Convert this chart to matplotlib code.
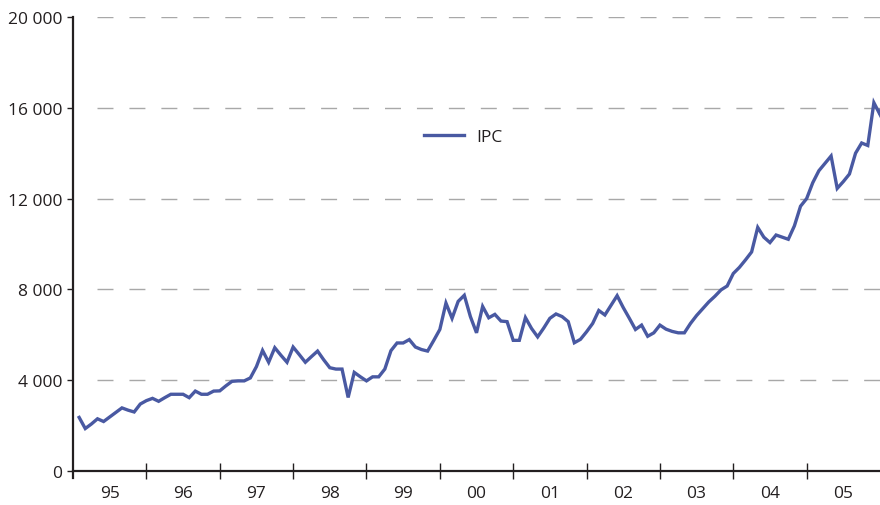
import matplotlib
matplotlib.use("Agg")
import matplotlib.pyplot as plt
import numpy as np

# monthly IPC index, month-end values
ipc_1995 = [2360, 1870, 2070, 2300, 2180, 2380, 2580, 2780, 2680, 2600, 2950, 3100]
ipc_1996 = [3200, 3070, 3230, 3380, 3380, 3380, 3230, 3520, 3380, 3380, 3520, 3530]
ipc_1997 = [3750, 3950, 3970, 3970, 4100, 4600, 5310, 4790, 5430, 5100, 4790, 5460]
ipc_1998 = [5130, 4790, 5040, 5283, 4900, 4550, 4490, 4490, 3240, 4344, 4150, 3970]
ipc_1999 = [4148, 4148, 4490, 5300, 5640, 5640, 5788, 5462, 5350, 5283, 5750, 6235]
ipc_2000 = [7397, 6726, 7473, 7741, 6800, 6087, 7249, 6750, 6900, 6606, 6579, 5756]
ipc_2001 = [5756, 6757, 6279, 5908, 6300, 6726, 6918, 6802, 6579, 5650, 5800, 6132]
ipc_2002 = [6500, 7071, 6874, 7300, 7723, 7200, 6726, 6235, 6427, 5935, 6087, 6427]
ipc_2003 = [6248, 6150, 6087, 6087, 6500, 6850, 7150, 7450, 7700, 7980, 8150, 8700]
ipc_2004 = [8970, 9300, 9650, 10731, 10300, 10063, 10396, 10300, 10208, 10800, 11664, 12000]
ipc_2005 = [12700, 13227, 13550, 13877, 12450, 12750, 13083, 14000, 14450, 14340, 16225, 15705]
ipc_2006 = [16900]

years = list(range(1995, 2006))
year_labels = ["95", "96", "97", "98", "99", "00", "01", "02", "03", "04", "05"]
y_ticks = [0, 4000, 8000, 12000, 16000, 20000]

ipc = np.array(ipc_1995 + ipc_1996 + ipc_1997 + ipc_1998 + ipc_1999 + ipc_2000
               + ipc_2001 + ipc_2002 + ipc_2003 + ipc_2004 + ipc_2005 + ipc_2006)
t = 1995 + np.arange(1, len(ipc) + 1) / 12.0

plt.rcParams['font.family'] = ['Open Sans', 'DejaVu Sans']
txt = '#231f20'

fig = plt.figure(figsize=(8.8, 5.06), dpi=100)
ax = fig.add_axes([0.083, 0.0524, 0.917, 0.912])

for v in y_ticks[1:]:
    ax.axhline(v, xmin=0.03, color='#a8a8a8', lw=1.0, linestyle=(0, (11.5, 11.5)), zorder=1)

ax.plot(t, ipc, color='#4959a2', lw=2.4, label='IPC', zorder=3, solid_joinstyle='miter')

ax.set_xlim(1995, 2006)
ax.set_ylim(-330, 20000)

for s in ['top', 'right']:
    ax.spines[s].set_visible(False)
ax.spines['bottom'].set_position(('data', 0))
ax.spines['bottom'].set_linewidth(1.6)
ax.spines['left'].set_linewidth(1.6)
ax.spines['bottom'].set_color(txt)
ax.spines['left'].set_color(txt)

ax.set_yticks(y_ticks)
ax.set_yticklabels([f"{v:,}".replace(",", " ") for v in y_ticks])
ax.tick_params(axis='y', direction='out', length=4.5, width=1.0, pad=3,
               labelsize=12.5, colors=txt)

ax.set_xticks(years[1:])
ax.set_xticklabels([])
ax.set_xticks([y + 0.5 for y in years], minor=True)
ax.set_xticklabels(year_labels, minor=True)
ax.tick_params(axis='x', which='major', direction='inout', length=11, width=1.0, colors=txt)
ax.tick_params(axis='x', which='minor', length=0, pad=10, labelsize=12.5, colors=txt)

ax.legend(loc='center left', bbox_to_anchor=(424 / 880, 1 - 138 / 506),
          bbox_transform=fig.transFigure, frameon=False, fontsize=12.5,
          handlelength=2.3, handletextpad=0.7, borderpad=0, borderaxespad=0,
          labelcolor=txt)

fig.savefig("out.png", dpi=100)
